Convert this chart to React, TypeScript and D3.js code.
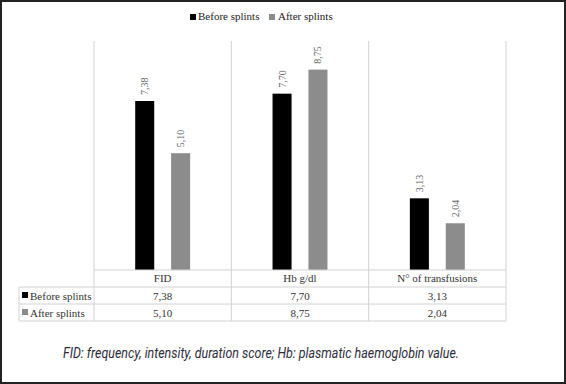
import React from "react";
import * as d3 from "d3";

const categories = ["FID", "Hb g/dl", "N° of transfusions"];
const seriesNames = ["Before splints", "After splints"];
const beforeValues = [7.38, 7.7, 3.13];
const afterValues = [5.1, 8.75, 2.04];
const seriesColors = ["#000000", "#8c8c8c"];
const caption = "FID: frequency, intensity, duration score; Hb: plasmatic haemoglobin value.";

const fmt = (v: number) => v.toFixed(2).replace(".", ",");

export default function App() {
  const width = 566;
  const height = 384;
  const plotLeft = 94;
  const plotRight = 506;
  const plotTop = 41;
  const baseY = 270;
  const rowH = 17;
  const tableLeft = 19;
  const serif = "'Liberation Serif', 'Times New Roman', serif";

  const values = [beforeValues, afterValues];

  const x = d3.scaleBand().domain(categories).range([plotLeft, plotRight]);
  const bw = x.bandwidth();
  const xInner = d3
    .scaleBand()
    .domain(seriesNames)
    .range([bw * 0.3, bw * 0.7])
    .paddingInner(0.47);
  const y = d3.scaleLinear().domain([0, 10]).range([baseY, plotTop]);

  const tableBottom = baseY + rowH * 3;
  const gridLines = [...categories.map((c) => x(c)!), plotRight];

  return (
    <svg
      width={width}
      height={height}
      style={{ position: "absolute", left: 0, top: 0, background: "#fff" }}
    >
      <rect x={1} y={1} width={width - 2} height={height - 2} fill="#fff" stroke="#222" strokeWidth={2} />

      {/* legend */}
      <g fontFamily={serif} fontSize={11} fill="#222">
        <rect x={190} y={14} width={6} height={6} fill={seriesColors[0]} />
        <text x={198} y={19.5}>{seriesNames[0]}</text>
        <rect x={269} y={14} width={6} height={6} fill={seriesColors[1]} />
        <text x={278} y={19.5}>{seriesNames[1]}</text>
      </g>

      {/* vertical grid / table columns */}
      {gridLines.map((gx, i) => (
        <line key={i} x1={gx} x2={gx} y1={plotTop} y2={tableBottom} stroke="#d2d2d2" strokeWidth={1} />
      ))}

      {/* bars */}
      {seriesNames.map((s, si) =>
        categories.map((c, ci) => {
          const v = values[si][ci];
          const bx = x(c)! + xInner(s)!;
          const cx = bx + xInner.bandwidth() / 2;
          return (
            <g key={s + c}>
              <rect
                x={bx}
                y={y(v)}
                width={xInner.bandwidth()}
                height={baseY - y(v)}
                fill={seriesColors[si]}
              />
              <text
                transform={`translate(${cx + 3.5},${y(v) - 6}) rotate(-90)`}
                fontFamily={serif}
                fontSize={10}
                fill="#666"
              >
                {fmt(v)}
              </text>
            </g>
          );
        })
      )}

      {/* table lines */}
      <g stroke="#d2d2d2" strokeWidth={1}>
        <line x1={plotLeft} x2={plotRight} y1={baseY} y2={baseY} />
        <line x1={tableLeft} x2={plotRight} y1={baseY + rowH} y2={baseY + rowH} />
        <line x1={tableLeft} x2={plotRight} y1={baseY + rowH * 2} y2={baseY + rowH * 2} />
        <line x1={tableLeft} x2={plotRight} y1={tableBottom} y2={tableBottom} />
        <line x1={tableLeft} x2={tableLeft} y1={baseY + rowH} y2={tableBottom} />
      </g>

      {/* table text */}
      <g fontFamily={serif} fontSize={11} fill="#333" textAnchor="middle">
        {categories.map((c) => (
          <text key={c} x={x(c)! + bw / 2} y={baseY + 12}>{c}</text>
        ))}
        {seriesNames.map((s, si) =>
          categories.map((c, ci) => (
            <text key={s + c} x={x(c)! + bw / 2} y={baseY + rowH * (si + 1) + 12.5}>
              {fmt(values[si][ci])}
            </text>
          ))
        )}
      </g>
      <g fontFamily={serif} fontSize={11} fill="#333">
        {seriesNames.map((s, si) => (
          <g key={s}>
            <rect x={22} y={baseY + rowH * (si + 1) + 5} width={6} height={6} fill={seriesColors[si]} />
            <text x={30} y={baseY + rowH * (si + 1) + 12.5}>{s}</text>
          </g>
        ))}
      </g>

      {/* caption */}
      <text
        x={63}
        y={358}
        fontFamily="'Liberation Sans Narrow', 'Roboto', sans-serif"
        fontStyle="italic"
        fontSize={15}
        fill="#2b2b3a"
        textLength={396}
        lengthAdjust="spacingAndGlyphs"
      >
        {caption}
      </text>
    </svg>
  );
}
